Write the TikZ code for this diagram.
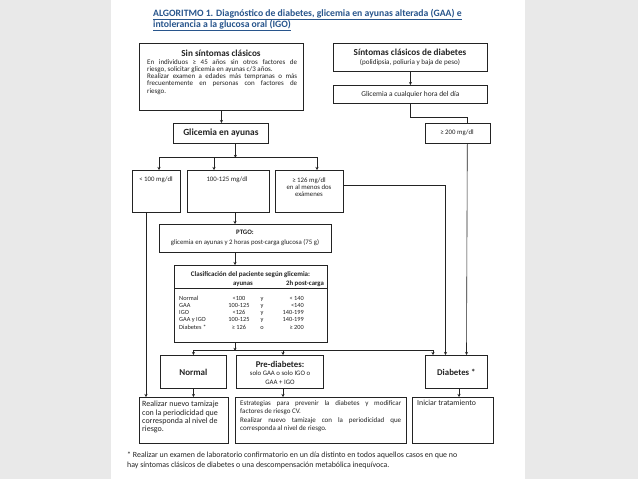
\documentclass[tikz,border=0pt]{standalone}
\usepackage{fontspec}
\setmainfont{Carlito}
\usetikzlibrary{arrows.meta,calc}
\definecolor{bg}{RGB}{233,233,233}
\definecolor{ttl}{RGB}{40,85,140}
\definecolor{ink}{RGB}{35,35,35}
\newcommand\fsz[2]{\fontsize{#1}{#2}\selectfont}
\newcommand\jline[2]{\makebox[#1][s]{#2}}
\begin{document}
\begin{tikzpicture}[x=1pt,y=-1pt,
  box/.style={draw=ink,line width=0.8pt,inner sep=0pt,anchor=north west},
  ln/.style={draw=ink,line width=0.6pt},
  arr/.style={ln,-{Stealth[length=3pt,width=3pt]}},
  txt/.style={inner sep=0pt,text=ink},
  hd/.style={txt,font=\fsz{9.2}{10}\bfseries},
  sm/.style={txt,font=\fsz{7.1}{8}},
  tb/.style={txt,font=\fsz{6.3}{7}}]
\useasboundingbox (0,0) rectangle (638,479);
\fill[bg] (0,0) rectangle (638,479);
\fill[white] (111,0) rectangle (525,479);

% title
\node[txt,anchor=west,font=\fsz{9.7}{11}\bfseries,text=ttl] (ttl1) at (153,14.5) {\underline{ALGORITMO 1. Diagnóstico de diabetes, glicemia en ayunas alterada (GAA) e}};
\node[txt,anchor=west,font=\fsz{9.7}{11}\bfseries,text=ttl] (ttl2) at (153,25.5) {\underline{intolerancia a la glucosa oral (IGO)}};

% boxes
\node[box,minimum width=164pt,minimum height=67pt] (b1) at (139,43) {};
\node[box,minimum width=154pt,minimum height=28pt] (b2) at (333,43) {};
\node[box,minimum width=154pt,minimum height=18pt] (b3) at (333,85) {};
\node[box,minimum width=65pt,minimum height=20pt] (g200) at (425,123) {};
\node[box,minimum width=95pt,minimum height=20pt] (gay) at (173,123) {};
\node[box,minimum width=48pt,minimum height=42pt] (l100) at (132,170) {};
\node[box,minimum width=82pt,minimum height=42pt] (l125) at (187,170) {};
\node[box,minimum width=68pt,minimum height=42pt] (l126) at (275,170) {};
\node[box,minimum width=172pt,minimum height=28pt] (ptgo) at (159,224) {};
\node[box,minimum width=153pt,minimum height=77pt] (clas) at (174,265) {};
\node[box,minimum width=66pt,minimum height=33pt] (normal) at (160,355) {};
\node[box,minimum width=87pt,minimum height=33pt] (pre) at (236,355) {};
\node[box,minimum width=62pt,minimum height=33pt] (diab) at (425,355) {};
\node[box,minimum width=89pt,minimum height=46pt] (r1) at (139,397) {};
\node[box,minimum width=171pt,minimum height=46pt] (r2) at (235,397) {};
\node[box,minimum width=81pt,minimum height=46pt] (r3) at (412,397) {};

% box texts
\node[hd] (b1h) at (221,53) {Sin síntomas clásicos};
\node[txt,anchor=north west,align=left,font=\fsz{7}{7.3}] (b1t) at (147,59) {%
\jline{150pt}{En individuos ≥ 45 años sin otros factores de}\\
riesgo, solicitar glicemia en ayunas c/3 años.\\
\jline{150pt}{Realizar examen a edades más tempranas o más}\\
\jline{150pt}{frecuentemente en personas con factores de}\\
riesgo.};
\node[hd] (b2h) at (410,52) {Síntomas clásicos de diabetes};
\node[sm] (b2t) at (410,62.5) {(polidipsia, poliuria y baja de peso)};
\node[sm,font=\fsz{7.4}{8}] (b3t) at (b3) {Glicemia a cualquier hora del día};
\node[sm,font=\fsz{6.8}{8}] (g200t) at (457,132.5) {≥ 200 mg/dl};
\node[txt,font=\fsz{9.4}{10}\bfseries] (gayt) at (gay) {Glicemia en ayunas};
\node[sm,font=\fsz{6.8}{8}] (l100t) at (156,180) {< 100 mg/dl};
\node[sm,font=\fsz{6.8}{8}] (l125t) at (227,180) {100-125 mg/dl};
\node[sm,align=center,font=\fsz{6.8}{7}] (l126t) at (309,187) {≥ 126 mg/dl\\en al menos dos\\exámenes};
\node[sm,font=\fsz{6.8}{8}\bfseries] (ptgoh) at (245,232) {PTGO:};
\node[sm,font=\fsz{6.8}{8}] (ptgot) at (245,243) {glicemia en ayunas y 2 horas post-carga glucosa (75 g)};
\node[txt,font=\fsz{7}{8}\bfseries] (clh) at (250.5,275) {Clasificación del paciente según glicemia:};
\node[txt,anchor=base,font=\fsz{6.8}{8}\bfseries] (cla) at (243,285.5) {ayunas};
\node[txt,anchor=base,font=\fsz{6.8}{8}\bfseries] (clb) at (305,285.5) {2h post-carga};
\draw[ln] (clas.west |- 0,288.5) -- (clas.east |- 0,288.5);
\foreach \lab/\a/\c/\b [count=\i] in {Normal/{<100}/y/{< 140},GAA/{100-125}/y/{<140},IGO/{<126}/y/{140-199},GAA y IGO/{100-125}/y/{140-199},Diabetes */{≥ 126}/o/{≥ 200}}{
  \node[tb,anchor=base west] (rl\i) at (179,{300.2+(\i-1)*7.2}) {\lab};
  \node[tb,anchor=base] (ra\i) at (239,{300.2+(\i-1)*7.2}) {\a};
  \node[tb,anchor=base] (rc\i) at (262,{300.2+(\i-1)*7.2}) {\c};
  \node[tb,anchor=base east] (rb\i) at (304,{300.2+(\i-1)*7.2}) {\b};
}
\node[txt,font=\fsz{9}{10}\bfseries] (normalt) at (normal) {Normal};
\node[txt,font=\fsz{8.8}{10}\bfseries] (preh) at (280,364) {Pre-diabetes:};
\node[sm,align=center,font=\fsz{6.8}{8.5}] (pret) at (280,377.5) {solo GAA o solo IGO o\\GAA + IGO};
\node[txt,font=\fsz{8.8}{10}\bfseries] (diabt) at (diab) {Diabetes *};
\node[txt,anchor=north west,align=left,font=\fsz{8}{8.3}] (r1t) at (142,401) {Realizar nuevo tamizaje\\con la periodicidad que\\corresponda al nivel de\\riesgo.};
\node[txt,anchor=north west,align=left,font=\fsz{7}{8.3}] (r2t) at (240,400.5) {%
\jline{161pt}{Estrategias para prevenir la diabetes y modificar}\\
factores de riesgo CV.\\
\jline{161pt}{Realizar nuevo tamizaje con la periodicidad que}\\
corresponda al nivel de riesgo.};
\node[txt,anchor=north west,font=\fsz{7.8}{9}] (r3t) at (417,399.5) {Iniciar tratamiento};

% footnote
\node[txt,anchor=west,font=\fsz{7.9}{9}] (fn1) at (127,455) {* Realizar un examen de laboratorio confirmatorio en un día distinto en todos aquellos casos en que no};
\node[txt,anchor=west,font=\fsz{7.9}{9}] (fn2) at (127,465.5) {hay síntomas clásicos de diabetes o una descompensación metabólica inequívoca.};

% connectors
\draw[arr] (b1.south) -- (b1.south |- gay.north);
\draw[arr] (b2.south) -- (b3.north);
\draw[ln] (b3.south) -- ++(0,13) -| ($(g200.north east)+(-24,0)$);
\draw[arr] ($(gay.south)+(14.5,0)$) -- ++(0,14);
\draw[ln] ($(l100.north west)+(27,-13)$) -- ($(l126.north west)+(42,-13)$);
\draw[arr] ($(l100.north west)+(27,-13)$) -- ($(l100.north west)+(27,0)$);
\draw[arr] ($(l125.north west)+(27,-13)$) -- ($(l125.north west)+(27,0)$);
\draw[arr] ($(l126.north west)+(42,-13)$) -- ($(l126.north west)+(42,0)$);
\draw[arr] ($(l125.south west)+(48,0)$) -- ($(ptgo.north west)+(76,0)$);
\draw[arr] ($(ptgo.south west)+(76,0)$) -- ($(clas.north west)+(61,0)$);
\draw[arr] ($(clas.south west)+(61,0)$) -- ++(0,8);
\draw[ln] ($(normal.north)+(0,-5)$) -- ($(diab.north west)+(8,-5)$);
\draw[arr] ($(normal.north)+(0,-5)$) -- (normal.north);
\draw[arr] ($(pre.north west)+(47,-5)$) -- ($(pre.north west)+(47,0)$);
\draw[arr] ($(diab.north west)+(8,-5)$) -- ($(diab.north west)+(8,0)$);
\draw[arr] ($(l126.north east)+(0,15)$) -| ($(diab.north west)+(20.5,0)$);
\draw[arr] ($(g200.south east)+(-23.5,0)$) -- ($(diab.north west)+(41.5,0)$);
\draw[arr] ($(l100.south west)+(14,0)$) -- ($(r1.north west)+(7,0)$);
\draw[arr] (normal.south) -- (normal.south |- r1.north);
\draw[arr] ($(pre.south west)+(47,0)$) -- ($(r2.north west)+(48,0)$);
\draw[arr] ($(diab.south west)+(34,0)$) -- ($(r3.north west)+(47,0)$);
\end{tikzpicture}
\end{document}
